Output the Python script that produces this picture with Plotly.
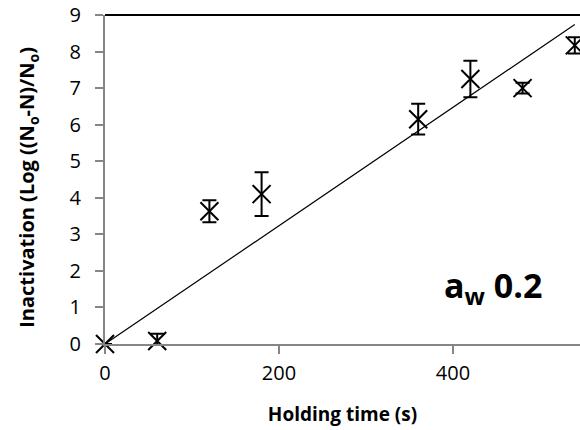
import plotly.graph_objects as go

holding_time = [0, 60, 120, 180, 360, 420, 480, 540]
inactivation = [0.0, 0.08, 3.63, 4.1, 6.15, 7.25, 7.0, 8.17]
error = [0.0, 0.2, 0.3, 0.6, 0.42, 0.5, 0.15, 0.22]
fit_x = [0, 540]
fit_y = [0.0, 8.74]
x_ticks = [0, 200, 400]
y_ticks = list(range(0, 10))

FONT = "Open Sans"
AXIS_GRAY = "#868686"

fig = go.Figure()
fig.add_trace(go.Scatter(
    x=fit_x, y=fit_y, mode="lines",
    line=dict(color="black", width=1.2), showlegend=False, hoverinfo="skip"))
fig.add_trace(go.Scatter(
    x=holding_time, y=inactivation, mode="markers",
    marker=dict(symbol="x-thin-open", size=18, color="black",
                line=dict(color="black", width=2)),
    error_y=dict(type="data", array=error, visible=True, color="black",
                 thickness=2, width=7),
    showlegend=False, cliponaxis=False))

fig.add_shape(type="line", xref="paper", x0=0, x1=1, yref="paper", y0=1, y1=1,
              line=dict(color="black", width=2), layer="above")

fig.add_annotation(x=446, y=1.55, xref="x", yref="y", showarrow=False,
                   text="<b>a<sub>w</sub> 0.2</b>",
                   font=dict(family=FONT, size=34, color="black"))

# y-axis title as a rotated annotation (placed like the reference)
fig.add_annotation(x=-0.162, y=0.475, xref="paper", yref="paper", showarrow=False,
                   xanchor="center", yanchor="middle", textangle=-90,
                   text="<b>Inactivation (Log ((N<sub>o</sub>-N)/N<sub>o</sub>)</b>",
                   font=dict(family=FONT, size=20, color="black"))

fig.update_layout(
    width=580, height=430,
    margin=dict(l=105, r=0, t=15, b=86, autoexpand=False),
    paper_bgcolor="white", plot_bgcolor="white",
    font=dict(family=FONT, color="black"),
)
fig.update_xaxes(
    range=[0, 546], tickvals=x_ticks, showgrid=False, zeroline=False,
    showline=True, linecolor=AXIS_GRAY, linewidth=2,
    ticks="outside", ticklen=8, tickwidth=2, tickcolor=AXIS_GRAY,
    tickfont=dict(family=FONT, size=20, color="black"),
    ticklabelstandoff=2,
    automargin=False,
    title=dict(text="<b>Holding time (s)</b>", standoff=23,
               font=dict(family=FONT, size=19, color="black")),
)
fig.update_yaxes(
    range=[0, 9], tickvals=y_ticks, showgrid=False, zeroline=False,
    showline=True, linecolor=AXIS_GRAY, linewidth=2,
    ticks="outside", ticklen=8, tickwidth=2, tickcolor=AXIS_GRAY,
    tickfont=dict(family=FONT, size=20, color="black"),
    ticklabelstandoff=10, ticklabeloverflow="allow",
    automargin=False,
)

# remove the browser's default 8px body margin so the 580x430 figure fills the window
fig.write_html("out.html", config={"displayModeBar": False},
               post_script="document.body.style.margin='0';")
